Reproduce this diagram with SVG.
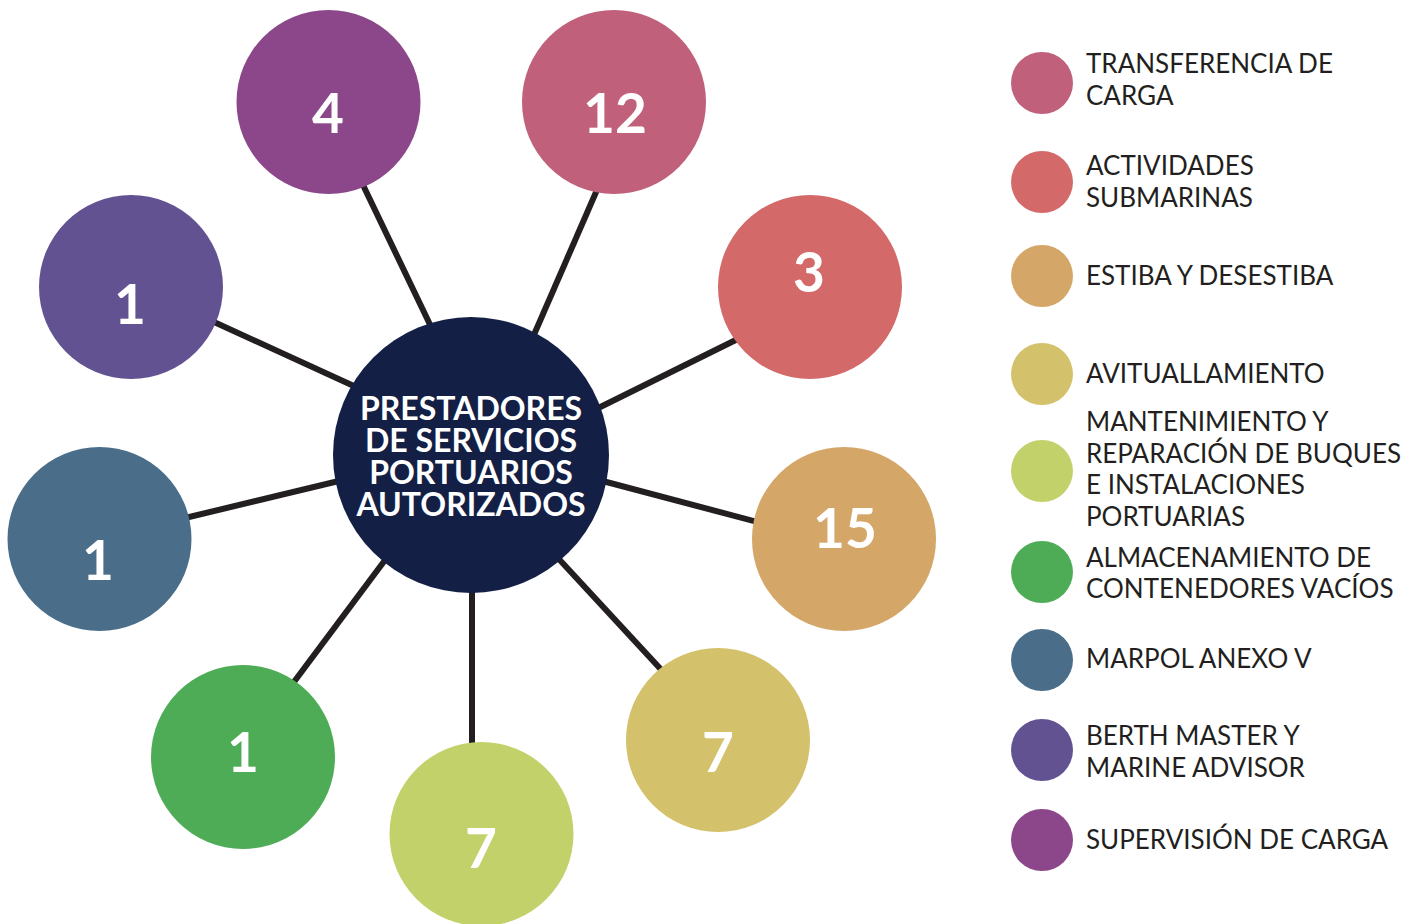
<svg xmlns="http://www.w3.org/2000/svg" width="1425" height="924" viewBox="0 0 1425 924">
<style>
.edge{stroke:#231F20;stroke-width:6;fill:none}
.num{font-family:Lato,"Open Sans","Liberation Sans",sans-serif;font-weight:700;font-size:55px;fill:#FFFFFF;text-anchor:middle}
.ctr{font-family:Lato,"Open Sans","Liberation Sans",sans-serif;font-weight:700;font-size:32px;fill:#FFFFFF;text-anchor:middle}
.leg{font-family:Lato,"Open Sans","Liberation Sans",sans-serif;font-size:26px;fill:#231F20}
</style>
<rect width="1425" height="924" fill="#FFFFFF"/>
<g id="connectors">
<line class="edge" x1="351" y1="160" x2="447" y2="360"/>
<line class="edge" x1="610" y1="160" x2="523" y2="360"/>
<line class="edge" x1="760" y1="328" x2="570" y2="422"/>
<line class="edge" x1="580" y1="475" x2="780" y2="528"/>
<line class="edge" x1="545" y1="544" x2="680" y2="690"/>
<line class="edge" x1="472" y1="560" x2="472" y2="780"/>
<line class="edge" x1="400" y1="540" x2="273" y2="710"/>
<line class="edge" x1="160" y1="524" x2="370" y2="473.5"/>
<line class="edge" x1="190" y1="311" x2="380" y2="398"/>
</g>
<g id="center">
<circle cx="471" cy="455" r="138" fill="#131F45"/>
<text class="ctr" x="471" y="420">PRESTADORES</text>
<text class="ctr" x="471" y="452">DE SERVICIOS</text>
<text class="ctr" x="471" y="484">PORTUARIOS</text>
<text class="ctr" x="471" y="516">AUTORIZADOS</text>
</g>
<g id="node-supervision">
<circle cx="328.5" cy="102" r="92" fill="#8B4789"/>
<text class="num" x="328" y="133">4</text>
</g>
<g id="node-transferencia">
<circle cx="614" cy="102" r="92" fill="#C0607A"/>
<text class="num" x="615" y="133">12</text>
</g>
<g id="node-actividades">
<circle cx="810" cy="287" r="92" fill="#D4696A"/>
<text class="num" x="809" y="292">3</text>
</g>
<g id="node-estiba">
<circle cx="844" cy="539" r="92" fill="#D4A668"/>
<text class="num" x="845" y="548">15</text>
</g>
<g id="node-avituallamiento">
<circle cx="718" cy="740" r="92" fill="#D4C16B"/>
<text class="num" x="718" y="772">7</text>
</g>
<g id="node-mantenimiento">
<circle cx="481.5" cy="834" r="92" fill="#C3D16B"/>
<text class="num" x="481" y="868">7</text>
</g>
<g id="node-almacenamiento">
<circle cx="243" cy="757" r="92" fill="#4EAC56"/>
<text class="num" x="243" y="772">1</text>
</g>
<g id="node-marpol">
<circle cx="99.5" cy="539" r="92" fill="#4A6E8A"/>
<text class="num" x="98" y="580">1</text>
</g>
<g id="node-berth">
<circle cx="131" cy="287" r="92" fill="#625292"/>
<text class="num" x="130" y="324">1</text>
</g>
<g id="legend">
<g id="legend-transferencia"><circle cx="1042" cy="83" r="31" fill="#C0607A"/><text class="leg" x="1086" y="73">TRANSFERENCIA DE</text><text class="leg" x="1086" y="105">CARGA</text></g>
<g id="legend-actividades"><circle cx="1042" cy="182" r="31" fill="#D4696A"/><text class="leg" x="1086" y="175">ACTIVIDADES</text><text class="leg" x="1086" y="207">SUBMARINAS</text></g>
<g id="legend-estiba"><circle cx="1042" cy="276" r="31" fill="#D4A668"/><text class="leg" x="1086" y="285">ESTIBA Y DESESTIBA</text></g>
<g id="legend-avituallamiento"><circle cx="1042" cy="374" r="31" fill="#D4C16B"/><text class="leg" x="1086" y="383">AVITUALLAMIENTO</text></g>
<g id="legend-mantenimiento"><circle cx="1042" cy="471" r="31" fill="#C3D16B"/><text class="leg" x="1086" y="431">MANTENIMIENTO Y</text><text class="leg" x="1086" y="463">REPARACIÓN DE BUQUES</text><text class="leg" x="1086" y="494">E INSTALACIONES</text><text class="leg" x="1086" y="526">PORTUARIAS</text></g>
<g id="legend-almacenamiento"><circle cx="1042" cy="572" r="31" fill="#4EAC56"/><text class="leg" x="1086" y="567">ALMACENAMIENTO DE</text><text class="leg" x="1086" y="598">CONTENEDORES VACÍOS</text></g>
<g id="legend-marpol"><circle cx="1042" cy="660" r="31" fill="#4A6E8A"/><text class="leg" x="1086" y="668">MARPOL ANEXO V</text></g>
<g id="legend-berth"><circle cx="1042" cy="750" r="31" fill="#625292"/><text class="leg" x="1086" y="745">BERTH MASTER Y</text><text class="leg" x="1086" y="777">MARINE ADVISOR</text></g>
<g id="legend-supervision"><circle cx="1042" cy="840" r="31" fill="#8B4789"/><text class="leg" x="1086" y="849">SUPERVISIÓN DE CARGA</text></g>
</g>
</svg>
